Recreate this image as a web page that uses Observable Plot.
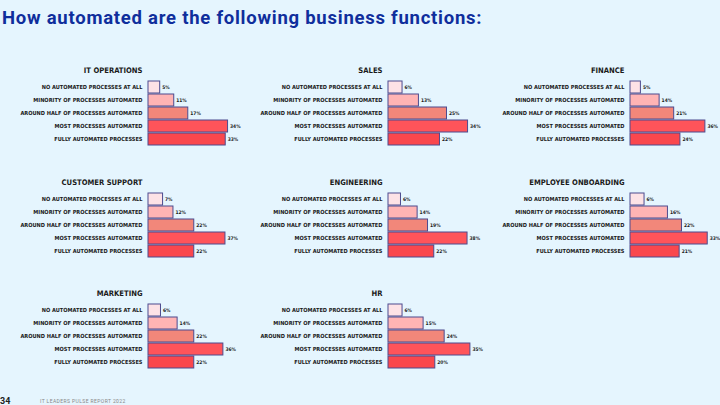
<!DOCTYPE html>
<html><head><meta charset="utf-8">
<script src="https://cdn.jsdelivr.net/npm/d3@7"></script>
<script src="https://cdn.jsdelivr.net/npm/@observablehq/plot@0.6"></script>
<style>
html,body{margin:0;padding:0}
body{background:#e5f5fe;width:720px;height:405px;overflow:hidden;position:relative}
#title{position:absolute;left:2px;top:7px;font-family:Roboto,sans-serif;font-weight:700;font-size:18.5px;letter-spacing:0.75px;color:#0f2e9c;white-space:nowrap}
.panel{position:absolute}
#pagenum{position:absolute;left:0px;top:396px;font-family:Roboto,sans-serif;font-weight:700;font-size:9px;color:#222}
#report{position:absolute;left:40px;top:398px;font-family:Roboto,sans-serif;font-size:5px;letter-spacing:0.4px;color:#888}
</style></head><body>
<div id="title">How automated are the following business functions:</div>
<div id="charts"></div>
<div id="pagenum">34</div>
<div id="report">IT LEADERS PULSE REPORT 2022</div>
<script>
const categories = [
  "NO AUTOMATED PROCESSES AT ALL",
  "MINORITY OF PROCESSES AUTOMATED",
  "AROUND HALF OF PROCESSES AUTOMATED",
  "MOST PROCESSES AUTOMATED",
  "FULLY AUTOMATED PROCESSES"
];
const functions = ["IT OPERATIONS", "SALES", "FINANCE", "CUSTOMER SUPPORT", "ENGINEERING", "EMPLOYEE ONBOARDING", "MARKETING", "HR"];
const itOperations = [5, 11, 17, 34, 33];
const sales = [6, 13, 25, 34, 22];
const finance = [5, 14, 21, 36, 24];
const customerSupport = [7, 12, 22, 37, 22];
const engineering = [6, 14, 19, 38, 22];
const employeeOnboarding = [6, 16, 22, 33, 21];
const marketing = [6, 14, 22, 36, 22];
const hr = [6, 15, 24, 35, 20];
const xMax = [40, 40, 45, 45, 45, 40, 45, 40];
const barColors = ["#fde2e6", "#ffb4b4", "#f2877a", "#ff545a", "#fa474d"];

const seriesValues = [itOperations, sales, finance, customerSupport, engineering, employeeOnboarding, marketing, hr];
const colX = [147.7, 388.3, 629.5];
const rowY = [80.5, 192.3, 303.3];
const labelFont = "'Liberation Sans Narrow','DejaVu Sans Condensed',sans-serif";

const container = document.getElementById("charts");
functions.forEach((fn, i) => {
  const col = i % 3, row = Math.floor(i / 3);
  const data = categories.map((c, j) => ({category: c, value: seriesValues[i][j]}));
  const mL = 146, mT = 20, plotW = 93.6, W = 262;
  const chart = Plot.plot({
    width: W,
    height: mT + 65 + 2,
    marginLeft: mL,
    marginRight: W - mL - plotW,
    marginTop: mT,
    marginBottom: 2,
    style: {background: "transparent", fontFamily: labelFont, fontWeight: "bold", fontSize: "5.6px", color: "#1a1a1a", overflow: "visible"},
    x: {domain: [0, xMax[i]], axis: null},
    y: {domain: categories, paddingInner: 0.08, paddingOuter: 0.04, tickSize: 0, tickPadding: 6, label: null},
    color: {domain: categories, range: barColors},
    marks: [
      Plot.barX(data, {x: "value", y: "category", fill: "category", stroke: "#4d4b8e", strokeWidth: 1}),
      Plot.text(data, {x: "value", y: "category", text: d => d.value + "%", dx: 2, textAnchor: "start", fontSize: 4.9}),
      Plot.text([fn], {frameAnchor: "top-left", dx: -6, dy: -12.5, textAnchor: "end", fontSize: 7.6, fontWeight: "bold"})
    ]
  });
  chart.classList.add("panel");
  chart.style.left = (colX[col] - mL) + "px";
  chart.style.top = (rowY[row] - mT - 0.5) + "px";
  container.appendChild(chart);
});
</script>
</body></html>
